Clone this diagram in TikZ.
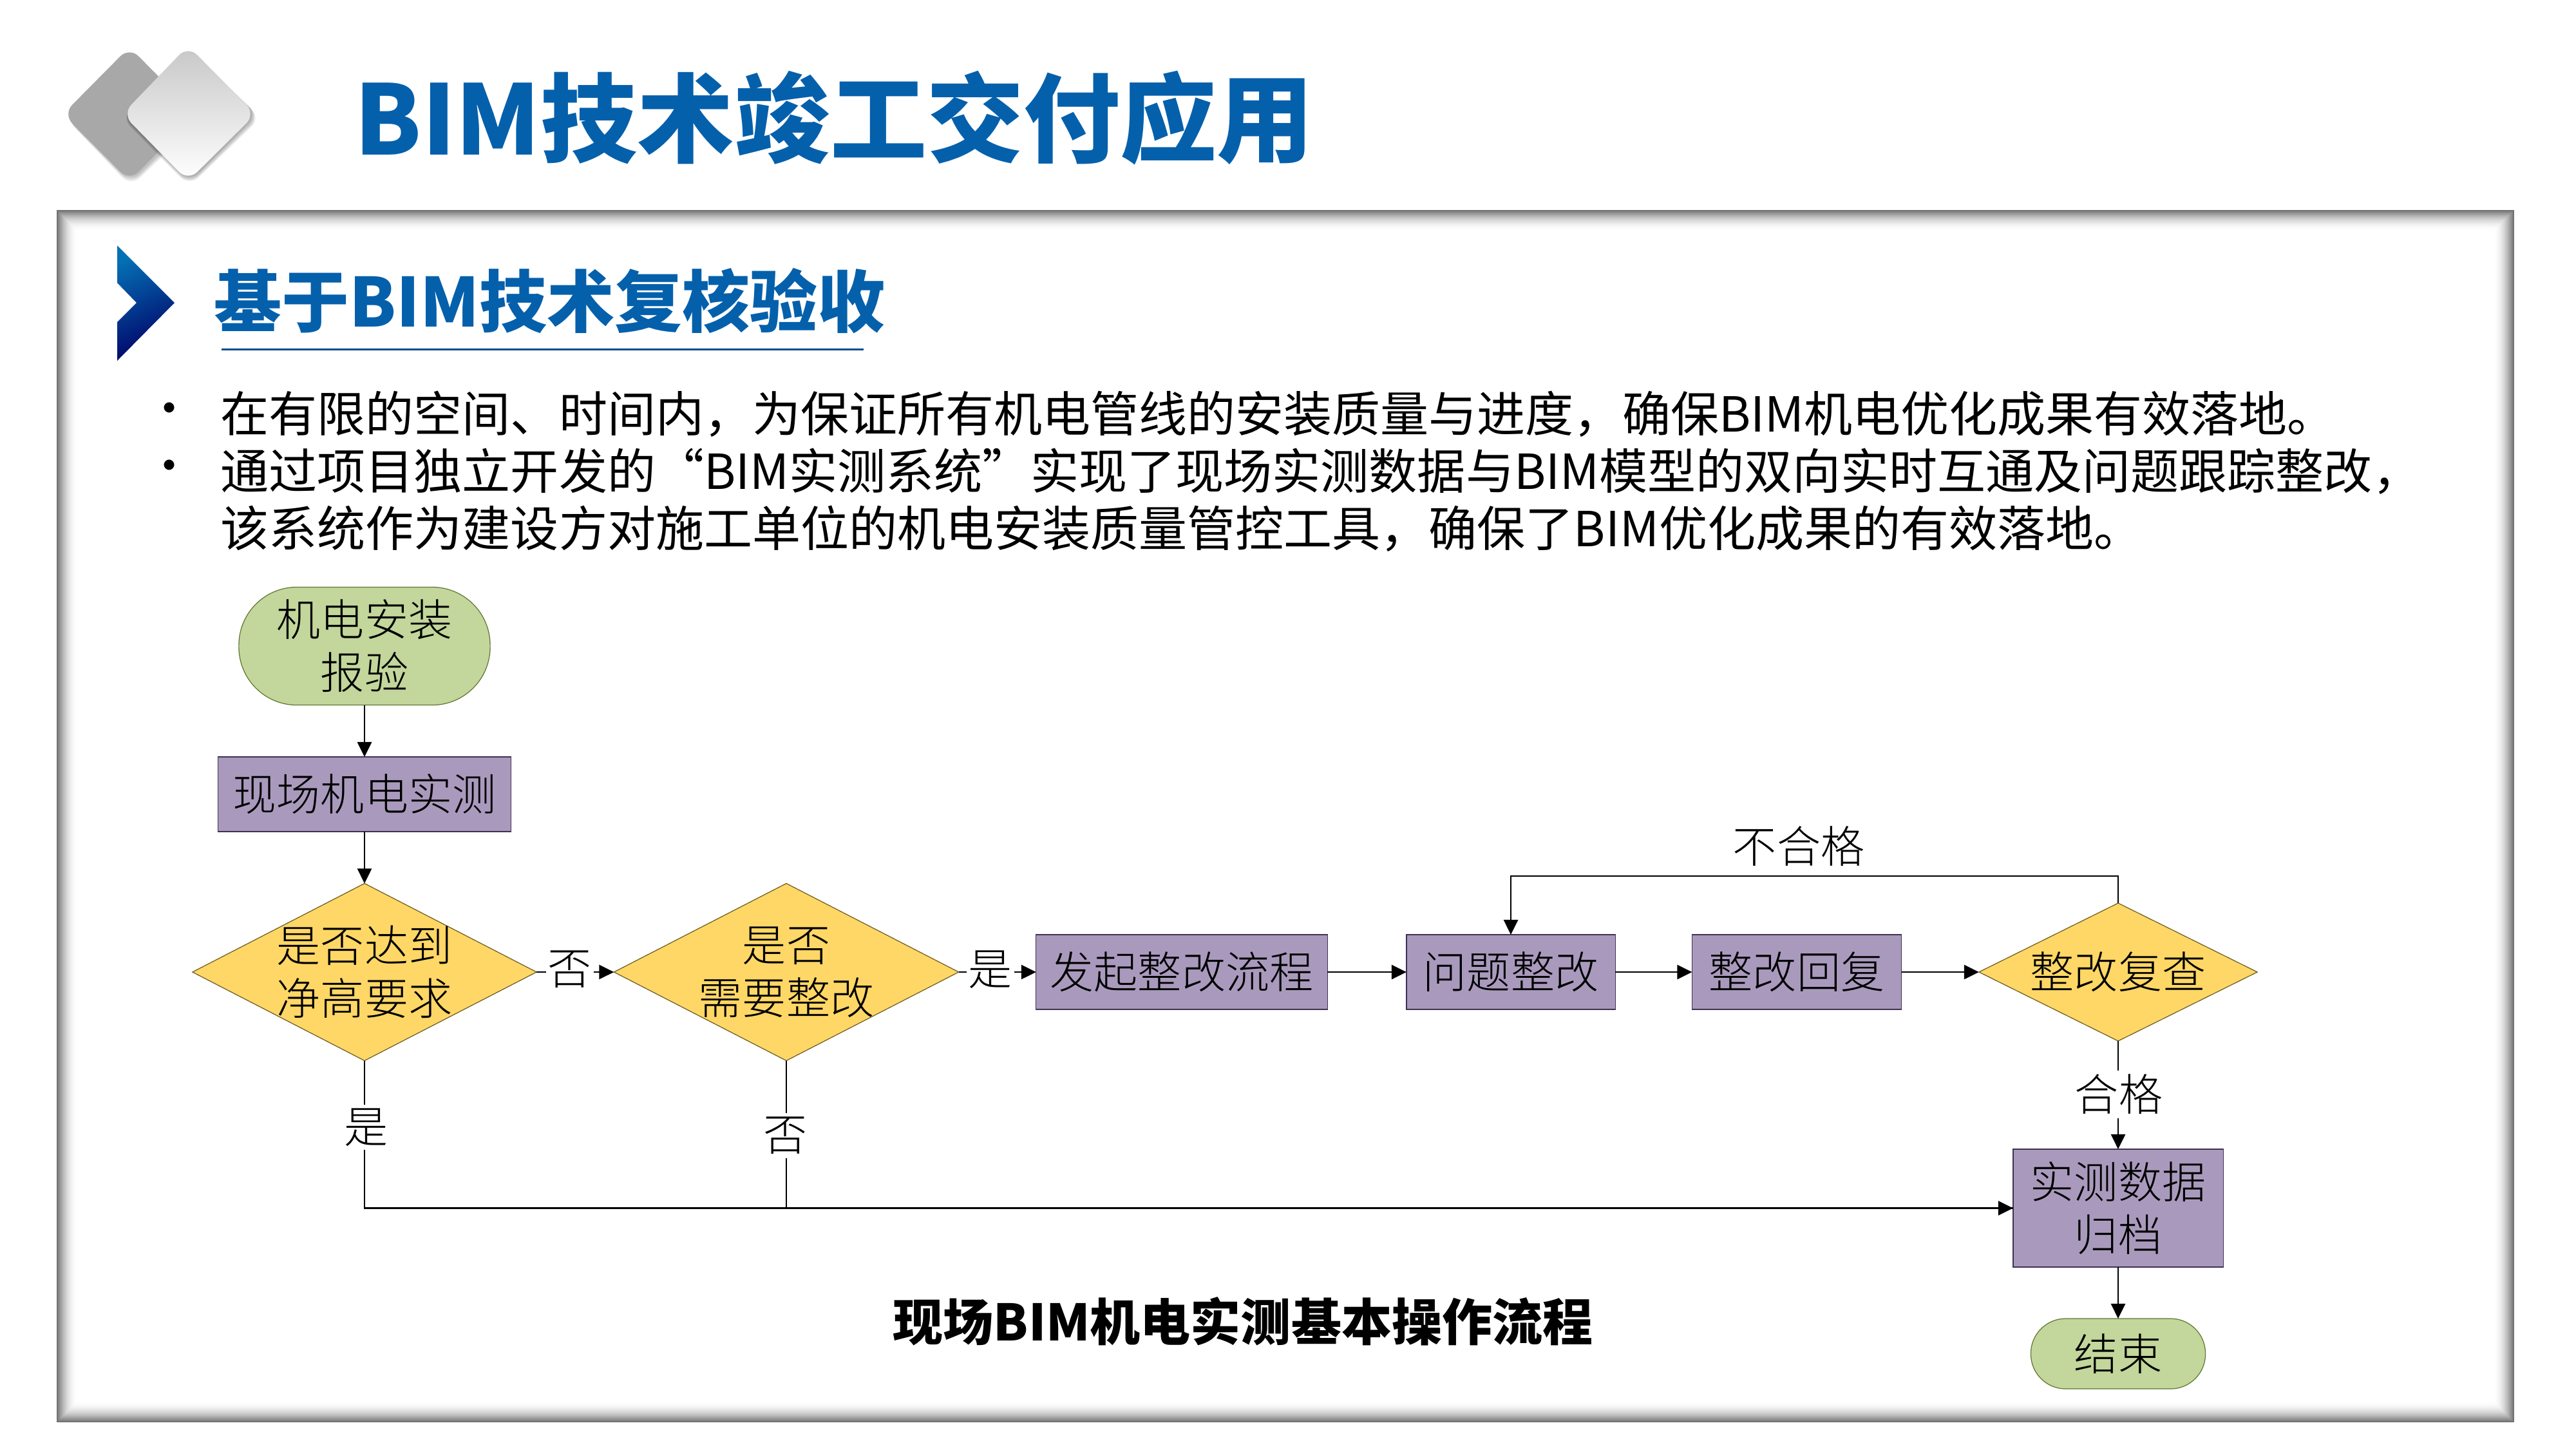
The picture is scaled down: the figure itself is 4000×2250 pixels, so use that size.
\documentclass[tikz,border=0pt]{standalone}
\usepackage{fontspec}
\usetikzlibrary{arrows.meta,shapes.geometric,calc}
\setmainfont{Noto Sans CJK SC}
\newfontfamily\flowfont{Noto Sans CJK SC}[UprightFont=* Light]
\definecolor{tblue}{HTML}{0560AC}
\definecolor{tgreen}{HTML}{C3D69B}
\definecolor{tgreenl}{HTML}{5E7530}
\definecolor{tpurple}{HTML}{A99ABD}
\definecolor{tpurplel}{HTML}{3F3151}
\definecolor{tyellow}{HTML}{FED766}
\definecolor{tyellowl}{HTML}{6B5A1E}
\tikzset{
  flowtxt/.style={font=\flowfont\fontsize{19.35}{23.33}\selectfont,align=center,inner sep=0pt,outer sep=0pt,text=black},
  proc/.style={flowtxt,rectangle,draw=tpurplel,fill=tpurple,line width=0.012cm},
  term/.style={flowtxt,rectangle,draw=tgreenl,fill=tgreen,line width=0.012cm},
  dec/.style={diamond,draw=tyellowl,fill=tyellow,line width=0.012cm,inner sep=0pt,outer sep=0pt,aspect=1.9},
  conn/.style={draw=black,line width=0.028cm},
  arr/.style={conn,-{Triangle[length=0.23cm,width=0.22cm]}},
  lab/.style={flowtxt,fill=white,inner ysep=0.06cm,inner xsep=0.03cm},
  bodyline/.style={anchor=west,inner sep=0pt,font=\fontsize{21.34}{25}\selectfont,text=black},
}
\begin{document}
\begin{tikzpicture}[x=0.01cm,y=-0.01cm]
\useasboundingbox (0,0) rectangle (4000,2250);
\fill[white] (0,0) rectangle (4000,2250);
% header icon: soft shadows
\foreach \i in {1,...,6}{
  \fill[black,opacity=0.045,rounded corners=0.2cm] (203,{79+\i}) -- ({98+\i*1.0},{179+\i}) -- (203,{281+\i*1.5}) -- ({308+\i},{179+\i}) -- cycle;
}
\fill[gray!65!white,rounded corners=0.2cm,fill=black!34] (201,73) -- (98,177) -- (201,281) -- (304,177) -- cycle;
\foreach \i in {1,...,6}{
  \fill[black,opacity=0.06,rounded corners=0.2cm] (294,{73+\i*1.2}) -- ({190-\i*0.3},{177+\i}) -- (294,{281+\i*1.4}) -- ({398+\i*1.2},{177+\i}) -- cycle;
}
\shade[top color=black!22,bottom color=white,rounded corners=0.2cm] (292,71) -- (190,177) -- (292,281) -- (397,177) -- cycle;
\node[anchor=west,inner sep=0pt,text=tblue,font=\fontsize{42.68}{50}\selectfont\bfseries] (title) at (550,183) {BIM技术竣工交付应用};
% frame with inner shadow
\fill[white] (89,327) rectangle (3903,2207);
\foreach \i in {0,...,15}{
  \pgfmathsetmacro{\sh}{55*(1-\i/16)*(1-\i/16)}
  \draw[black!\sh,line width=0.022cm] ({89+\i*2},{327+\i*2}) rectangle ({3903-\i*2},{2207-\i*2});
}
% chevron
\shade[top color=tblue!90!cyan,bottom color=blue!40!black,shading angle=25] (182,381) -- (271,470) -- (182,560) -- (182,500) -- (212,470) -- (182,439) -- cycle;
\node[anchor=west,inner sep=0pt,text=tblue,font=\fontsize{29.87}{35}\selectfont\bfseries] (head) at (332,467) {基于BIM技术复核验收};
\coordinate (ula) at (344,542);
\coordinate (ulb) at (1341,542);
\draw[draw=tblue!80!black,line width=0.03cm] (ula) -- (ulb);
% body text
\node[inner sep=0pt,font=\fontsize{21.34}{25}\selectfont] (b1) at (263,643) {•};
\node[inner sep=0pt,font=\fontsize{21.34}{25}\selectfont] (b2) at (263,732) {•};
\node[bodyline] (l1) at (342,643) {在有限的空间、时间内，为保证所有机电管线的安装质量与进度，确保BIM机电优化成果有效落地。};
\node[bodyline] (l2) at (342,732) {通过项目独立开发的“BIM实测系统”实现了现场实测数据与BIM模型的双向实时互通及问题跟踪整改，};
\node[bodyline] (l3) at (342,821) {该系统作为建设方对施工单位的机电安装质量管控工具，确保了BIM优化成果的有效落地。};
% flow nodes
\node[term,rounded corners=0.9cm,minimum width=3.9cm,minimum height=1.83cm] (start) at (566,1003) {机电安装\\报验};
\node[proc,minimum width=4.54cm,minimum height=1.16cm] (r1) at (566,1233) {现场机电实测};
\node[dec,minimum width=5.34cm,minimum height=2.75cm,label={[flowtxt]center:是否达到\\净高要求}] (d1) at (566,1509) {};
\node[dec,minimum width=5.35cm,minimum height=2.75cm,label={[flowtxt]center:是否\\需要整改}] (d2) at (1221,1509) {};
\node[proc,minimum width=4.52cm,minimum height=1.16cm] (r2) at (1835,1509) {发起整改流程};
\node[proc,minimum width=3.24cm,minimum height=1.16cm] (r3) at (2346,1509) {问题整改};
\node[proc,minimum width=3.25cm,minimum height=1.16cm] (r4) at (2790,1509) {整改回复};
\node[dec,minimum width=4.32cm,minimum height=2.14cm,label={[flowtxt]center:整改复查}] (d3) at (3289,1509) {};
\node[proc,minimum width=3.26cm,minimum height=1.83cm] (r5) at (3289,1875.5) {实测数据\\归档};
\node[term,rounded corners=0.54cm,minimum width=2.71cm,minimum height=1.09cm] (stop) at (3289,2101.5) {结束};
\coordinate (looptop) at (2800,1360);
% connectors
\draw[arr] (start) -- (r1);
\draw[arr] (r1) -- (d1);
\draw[arr] (d1) -- (d2);
\draw[arr] (d2) -- (r2);
\draw[arr] (r2) -- (r3);
\draw[arr] (r3) -- (r4);
\draw[arr] (r4) -- (d3);
\draw[arr] (d3.north) |- (looptop) -| (r3.north);
\draw[arr] (d3) -- (r5);
\draw[arr] (r5) -- (stop);
\draw[arr] (d1.south) |- (r5.west);
\draw[conn] (d2.south) |- (r5.west);
% connector labels
\node[lab] (no1) at (885,1505) {否};
\node[lab] (yes2) at (1538,1505) {是};
\node[lab] (yes1) at (569,1750) {是};
\node[lab] (no2) at (1220,1763) {否};
\node[lab] (pass) at (3290,1699) {合格};
\node[flowtxt] (fail) at (2793,1314) {不合格};
\node[inner sep=0pt,font=\fontsize{22.19}{26}\selectfont\bfseries] (cap) at (1930,2051) {现场BIM机电实测基本操作流程};
\end{tikzpicture}
\end{document}
